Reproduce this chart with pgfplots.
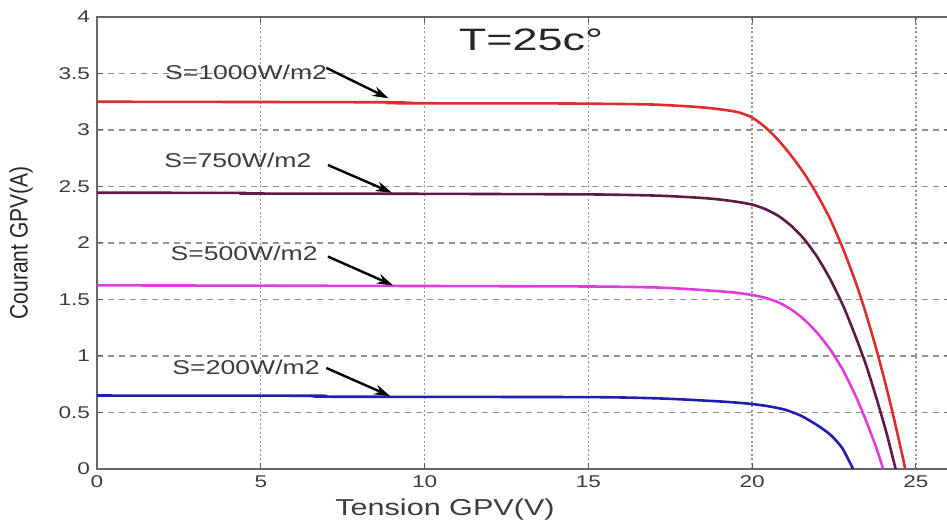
\documentclass[border=0pt]{standalone}
\usepackage{fontspec}
\setmainfont{Liberation Sans}[FakeStretch=1.33]
\newfontfamily\plainfont{Liberation Sans}
\newfontfamily\titlefont{Liberation Sans}[FakeStretch=1.45]
\usepackage{pgfplots}
\pgfplotsset{compat=1.18}
\usetikzlibrary{arrows.meta}
\definecolor{cred}{RGB}{222,45,45}
\definecolor{cmaroon}{RGB}{95,25,70}
\definecolor{cmag}{RGB}{225,60,225}
\definecolor{cblue}{RGB}{30,30,175}
\definecolor{ctxt}{RGB}{60,60,60}
\begin{document}
\begin{tikzpicture}
\begin{axis}[
  scale only axis,
  width=427pt, height=226pt,
  xmin=0, xmax=26.07, ymin=0, ymax=4,
  xtick={0,5,10,15,20,25},
  ytick={0,0.5,1,1.5,2,2.5,3,3.5,4},
  yticklabels={0,0.5,1,1.5,2,2.5,3,3.5,4},
  xticklabels={0,5,10,15,20,25},
  tick align=inside,
  major tick length=3pt,
  tick style={gray!70!black, line width=0.5pt},
  axis line style={gray!80!black, line width=0.7pt},
  grid=major,
  x grid style={gray!85, line width=0.7pt, dash pattern=on 1pt off 1.2pt},
  y grid style={gray!85, line width=0.7pt, dash pattern=on 3pt off 2.5pt},
  ticklabel style={font=\fontsize{8.5}{10}\selectfont, text=ctxt},
  xlabel={Tension GPV(V)},
  ylabel={\scalebox{1}[1.2]{\plainfont Courant GPV(A)}},
  xlabel style={font=\fontsize{11.5}{13}\selectfont, text=ctxt, at={(axis description cs:0.4075,0)}, anchor=center, yshift=-20.5pt},
  ylabel style={font=\fontsize{10.5}{12}\selectfont, text=black!85, at={(axis description cs:-0.089,0.5)}, anchor=center},
  clip=true,
]
\addplot[cred, line width=1.3pt, smooth, tension=0.4] coordinates {
(0,3.25) (9,3.245) (9.15,3.237) (14,3.235) (16,3.23) (17,3.225) (18,3.21) (18.6,3.197) (19.2,3.176) (19.6,3.155) (20.0,3.11) (20.4,3.025) (20.8,2.91) (21.2,2.77) (21.6,2.61) (22.0,2.42) (22.4,2.2) (22.8,1.93) (23.2,1.62) (23.5,1.35) (23.8,1.05) (24.1,0.72) (24.35,0.42) (24.6,0.1) (24.67,0)
};
\addplot[cmaroon, line width=1.3pt, smooth, tension=0.4] coordinates {
(0,2.445) (4.4,2.443) (4.5,2.438) (9,2.436) (15,2.43) (17,2.42) (17.8,2.41) (18.5,2.398) (19,2.385) (19.5,2.366) (20.0,2.34) (20.4,2.3) (20.8,2.24) (21.2,2.15) (21.6,2.03) (22.0,1.87) (22.4,1.67) (22.8,1.43) (23.2,1.14) (23.5,0.9) (23.8,0.62) (24.1,0.32) (24.38,0)
};
\addplot[cmag, line width=1.3pt, smooth, tension=0.4] coordinates {
(0,1.625) (9,1.62) (15,1.615) (17,1.607) (18,1.593) (19,1.573) (19.5,1.56) (20,1.54) (20.4,1.515) (20.8,1.475) (21.2,1.41) (21.6,1.32) (22.0,1.2) (22.4,1.05) (22.8,0.86) (23.2,0.62) (23.5,0.41) (23.8,0.18) (24.0,0)
};
\addplot[cblue, line width=1.3pt, smooth, tension=0.4] coordinates {
(0,0.65) (6.8,0.648) (6.95,0.64) (15,0.636) (17,0.626) (18,0.614) (19,0.598) (19.5,0.588) (20,0.575) (20.5,0.555) (21.0,0.525) (21.5,0.47) (22.0,0.385) (22.4,0.3) (22.75,0.185) (23.08,0)
};
\node[font=\titlefont\fontsize{15.5}{17}\selectfont, text=black!85] at (axis cs:13.25,3.80) {T=25c°};
\node[font=\fontsize{10}{12}\selectfont, text=ctxt] at (axis cs:4.55,3.51) {S=1000W/m2};
\node[font=\fontsize{10}{12}\selectfont, text=ctxt] at (axis cs:4.3,2.73) {S=750W/m2};
\node[font=\fontsize{10}{12}\selectfont, text=ctxt] at (axis cs:4.49,1.91) {S=500W/m2};
\node[font=\fontsize{10}{12}\selectfont, text=ctxt] at (axis cs:4.55,0.90) {S=200W/m2};
\draw[-{Stealth[length=8pt,width=5pt]}, line width=1.2pt, black] (axis cs:7.0,3.55) -- (axis cs:8.9,3.28);
\draw[-{Stealth[length=8pt,width=5pt]}, line width=1.2pt, black] (axis cs:7.05,2.69) -- (axis cs:9.0,2.445);
\draw[-{Stealth[length=8pt,width=5pt]}, line width=1.2pt, black] (axis cs:7.05,1.88) -- (axis cs:9.04,1.625);
\draw[-{Stealth[length=8pt,width=5pt]}, line width=1.2pt, black] (axis cs:7.0,0.894) -- (axis cs:8.95,0.645);
\end{axis}
\pgfresetboundingbox
\path[use as bounding box] ([xshift=-48.5pt,yshift=-26.5pt]current axis.south west) rectangle ([xshift=-2pt,yshift=8.5pt]current axis.north east);
\end{tikzpicture}
\end{document}
